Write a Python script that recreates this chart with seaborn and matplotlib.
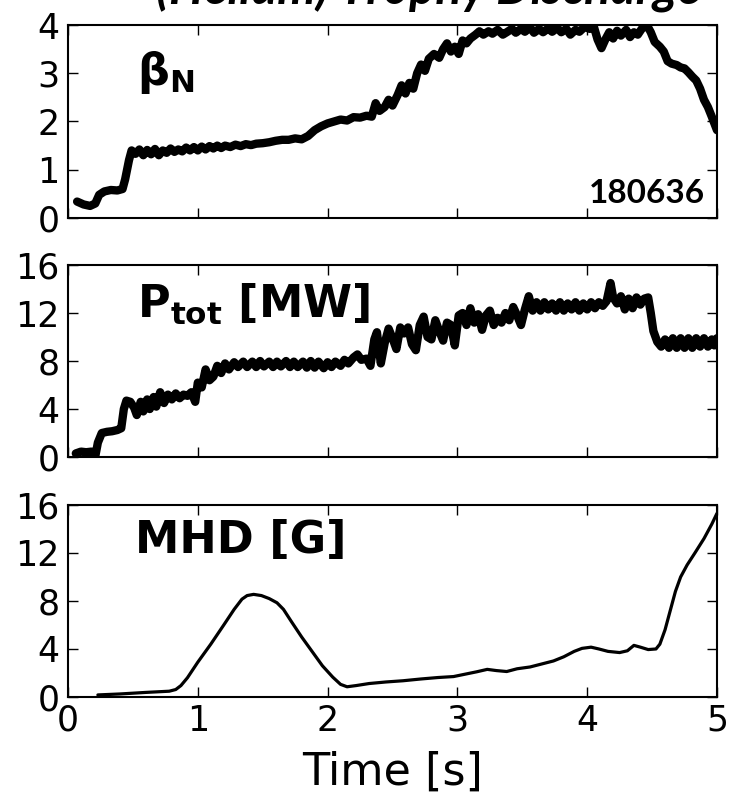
import matplotlib
matplotlib.use("Agg")
import matplotlib.pyplot as plt
import seaborn as sns

# Normalised beta (time [s], value)
beta_t = [0.07, 0.12, 0.17, 0.21, 0.24, 0.28, 0.33, 0.38, 0.42, 0.44, 0.47, 0.49,
          0.52, 0.55, 0.58, 0.61, 0.64, 0.67, 0.70, 0.73, 0.76, 0.79, 0.82, 0.85,
          0.88, 0.91, 0.94, 0.97, 1.00, 1.03, 1.06, 1.09, 1.12, 1.15, 1.18, 1.21,
          1.25, 1.29, 1.33, 1.37, 1.41, 1.45, 1.50, 1.55, 1.60, 1.65, 1.70, 1.75,
          1.80, 1.85, 1.90, 1.95, 2.00, 2.05, 2.10, 2.15, 2.20, 2.25, 2.30, 2.34,
          2.37, 2.40, 2.44, 2.47, 2.50, 2.54, 2.57, 2.60, 2.63, 2.66, 2.69, 2.72,
          2.75, 2.78, 2.82, 2.86, 2.89, 2.92, 2.95, 2.98, 3.01, 3.04, 3.07, 3.10,
          3.14, 3.17, 3.20, 3.24, 3.27, 3.31, 3.35, 3.38, 3.42, 3.45, 3.49, 3.52,
          3.56, 3.59, 3.63, 3.66, 3.70, 3.73, 3.77, 3.80, 3.84, 3.87, 3.91, 3.94,
          3.98, 4.02, 4.05, 4.08, 4.11, 4.14, 4.17, 4.20, 4.23, 4.26, 4.30, 4.33,
          4.36, 4.39, 4.42, 4.46, 4.49, 4.52, 4.56, 4.59, 4.62, 4.65, 4.69, 4.72,
          4.75, 4.78, 4.81, 4.84, 4.87, 4.90, 4.93, 4.96, 5.00]
beta_v = [0.34, 0.28, 0.25, 0.30, 0.48, 0.55, 0.58, 0.57, 0.60, 0.80, 1.20, 1.40,
          1.33, 1.42, 1.30, 1.41, 1.32, 1.43, 1.30, 1.40, 1.35, 1.44, 1.37, 1.42,
          1.38, 1.46, 1.40, 1.47, 1.40, 1.48, 1.42, 1.49, 1.44, 1.50, 1.45, 1.50,
          1.47, 1.52, 1.49, 1.53, 1.51, 1.54, 1.55, 1.57, 1.60, 1.62, 1.62, 1.65,
          1.63, 1.70, 1.82, 1.90, 1.96, 2.00, 2.04, 2.02, 2.09, 2.08, 2.12, 2.10,
          2.38, 2.22, 2.30, 2.45, 2.33, 2.55, 2.75, 2.58, 2.80, 2.68, 3.00, 3.18,
          3.05, 3.30, 3.40, 3.32, 3.50, 3.62, 3.45, 3.55, 3.40, 3.68, 3.62, 3.72,
          3.80, 3.87, 3.80, 3.87, 3.82, 3.90, 3.80, 3.85, 3.92, 3.84, 3.92, 3.86,
          3.95, 3.84, 3.92, 3.85, 3.93, 3.86, 3.94, 3.85, 3.92, 3.80, 3.90, 3.86,
          3.96, 3.92, 3.98, 3.70, 3.52, 3.70, 3.85, 3.72, 3.88, 3.78, 3.90, 3.75,
          3.85, 3.80, 3.92, 4.00, 3.85, 3.65, 3.55, 3.45, 3.25, 3.20, 3.17, 3.12,
          3.10, 3.02, 2.93, 2.85, 2.68, 2.45, 2.30, 2.10, 1.82]

# Total heating power [MW]
ptot_t = [0.06, 0.10, 0.14, 0.18, 0.21, 0.23, 0.26, 0.30, 0.34, 0.38, 0.41, 0.43,
          0.45, 0.48, 0.51, 0.53, 0.56, 0.58, 0.61, 0.63, 0.66, 0.68, 0.71, 0.74,
          0.77, 0.80, 0.83, 0.86, 0.89, 0.92, 0.95, 0.98, 1.00, 1.03, 1.06, 1.09,
          1.12, 1.15, 1.18, 1.21, 1.24, 1.28, 1.31, 1.35, 1.38, 1.42, 1.45, 1.48,
          1.51, 1.55, 1.58, 1.61, 1.64, 1.68, 1.71, 1.74, 1.77, 1.81, 1.84, 1.87,
          1.90, 1.93, 1.97, 2.00, 2.03, 2.06, 2.10, 2.13, 2.16, 2.20, 2.23, 2.26,
          2.30, 2.33, 2.36, 2.38, 2.41, 2.44, 2.47, 2.50, 2.53, 2.56, 2.59, 2.62,
          2.65, 2.68, 2.71, 2.74, 2.77, 2.80, 2.83, 2.86, 2.89, 2.92, 2.95, 2.98,
          3.01, 3.04, 3.07, 3.10, 3.13, 3.16, 3.19, 3.22, 3.25, 3.28, 3.31, 3.34,
          3.37, 3.40, 3.43, 3.46, 3.49, 3.52, 3.55, 3.58, 3.61, 3.64, 3.67, 3.70,
          3.73, 3.76, 3.79, 3.82, 3.85, 3.88, 3.91, 3.94, 3.97, 4.00, 4.03, 4.06,
          4.09, 4.12, 4.15, 4.18, 4.20, 4.23, 4.26, 4.29, 4.32, 4.35, 4.38, 4.41,
          4.44, 4.47, 4.49, 4.51, 4.54, 4.57, 4.60, 4.63, 4.66, 4.69, 4.72, 4.75,
          4.78, 4.81, 4.84, 4.87, 4.90, 4.93, 4.96, 4.98, 5.00]
ptot_v = [0.30, 0.45, 0.40, 0.45, 0.05, 1.20, 2.00, 2.10, 2.15, 2.25, 2.40, 4.00,
          4.70, 4.60, 4.10, 3.50, 4.60, 3.80, 4.80, 4.00, 5.00, 4.20, 5.40, 4.50,
          5.20, 4.80, 5.30, 4.90, 5.20, 5.10, 5.40, 4.60, 6.20, 5.80, 7.30, 6.40,
          6.70, 7.60, 7.00, 7.80, 7.30, 7.90, 7.50, 7.95, 7.50, 7.95, 7.50, 8.00,
          7.55, 7.95, 7.50, 7.95, 7.55, 8.00, 7.50, 7.95, 7.50, 7.95, 7.45, 8.00,
          7.45, 7.95, 7.40, 7.90, 7.50, 7.95, 7.60, 8.10, 7.80, 8.30, 8.55, 8.10,
          8.20, 7.60, 9.80, 10.40, 7.80, 9.50, 10.70, 9.90, 9.00, 10.80, 10.30, 10.80,
          9.40, 8.90, 11.00, 11.70, 10.00, 9.80, 11.40, 10.50, 9.70, 11.20, 11.00, 9.30,
          11.80, 12.00, 11.00, 12.40, 11.20, 11.90, 10.60, 11.80, 12.20, 11.00, 11.60, 11.20,
          12.00, 11.40, 12.50, 11.80, 11.00, 12.30, 13.40, 12.20, 12.90, 12.20, 12.90, 12.30,
          12.80, 12.20, 12.90, 12.20, 12.80, 12.30, 12.90, 12.20, 12.80, 12.30, 12.90, 12.40,
          12.90, 12.60, 13.00, 14.50, 13.30, 12.80, 13.40, 12.30, 13.20, 12.40, 13.30, 12.70,
          13.20, 13.30, 12.00, 10.50, 9.60, 9.20, 9.80, 9.10, 9.90, 9.10, 9.90, 9.10,
          9.90, 9.10, 9.90, 9.20, 9.90, 9.20, 9.80, 9.30, 9.90]

# Magnetic fluctuation amplitude [G]
mhd_t = [0.23, 0.40, 0.60, 0.78, 0.83, 0.87, 0.92, 1.00, 1.10, 1.20, 1.28, 1.34,
         1.38, 1.43, 1.49, 1.55, 1.61, 1.66, 1.72, 1.80, 1.88, 1.96, 2.04, 2.10,
         2.15, 2.22, 2.32, 2.45, 2.58, 2.72, 2.85, 2.97, 3.06, 3.15, 3.23, 3.30,
         3.38, 3.46, 3.56, 3.65, 3.74, 3.82, 3.90, 3.96, 4.03, 4.09, 4.16, 4.25,
         4.31, 4.36, 4.41, 4.47, 4.53, 4.56, 4.60, 4.64, 4.68, 4.72, 4.77, 4.83,
         4.90, 4.96, 5.00]
mhd_v = [0.17, 0.25, 0.38, 0.48, 0.62, 0.95, 1.60, 2.90, 4.40, 6.00, 7.30, 8.15,
         8.45, 8.55, 8.45, 8.20, 7.85, 7.30, 6.30, 5.00, 3.80, 2.60, 1.65, 1.05,
         0.85, 0.95, 1.12, 1.25, 1.35, 1.50, 1.62, 1.70, 1.90, 2.10, 2.30, 2.20,
         2.12, 2.35, 2.50, 2.75, 3.00, 3.35, 3.80, 4.05, 4.15, 4.00, 3.80, 3.70,
         3.85, 4.30, 4.15, 3.95, 4.00, 4.40, 5.60, 7.20, 8.80, 10.00, 11.00, 12.00,
         13.20, 14.40, 15.30]

panel_labels = ["β$_\\mathbf{N}$", "$\\mathbf{P}_{\\mathbf{tot}}$ [MW]", "MHD [G]"]
y_ticks = [[0, 1, 2, 3, 4], [0, 4, 8, 12, 16], [0, 4, 8, 12, 16]]
x_ticks = [0, 1, 2, 3, 4, 5]
shot = "180636"
title = "(Helium) Trophy Discharge"

sns.set_style("ticks")
plt.rcParams.update({
    "font.family": ["DejaVu Sans"],
    "mathtext.fontset": "dejavusans",
    "text.color": "black",
    "axes.labelcolor": "black",
    "xtick.direction": "in",
    "ytick.direction": "in",
    "xtick.top": True,
    "ytick.right": True,
    "axes.edgecolor": "black",
    "axes.linewidth": 1.5,
    "xtick.color": "black",
    "ytick.color": "black",
    "xtick.labelcolor": "black",
    "ytick.labelcolor": "black",
})

fig = plt.figure(figsize=(7.29, 7.99), dpi=100)
boxes = [(0.0933, 0.7272, 0.8902, 0.2415),
         (0.0933, 0.4280, 0.8902, 0.2403),
         (0.0933, 0.1277, 0.8902, 0.2403)]
axes = [fig.add_axes(b) for b in boxes]

series = [(beta_t, beta_v, 6.0), (ptot_t, ptot_v, 6.0), (mhd_t, mhd_v, 2.3)]
label_pos = [(0.106, 0.69), (0.106, 0.73), (0.103, 0.75)]

for ax, (t, v, lw), ticks, lab, (lx, ly) in zip(axes, series, y_ticks, panel_labels, label_pos):
    sns.lineplot(x=t, y=v, ax=ax, color="black", linewidth=lw, sort=False,
                 estimator=None, solid_joinstyle="round", solid_capstyle="round")
    ax.set_xlim(0, 5)
    ax.set_ylim(ticks[0], ticks[-1])
    ax.set_xticks(x_ticks)
    ax.set_yticks(ticks)
    ax.tick_params(axis="both", which="major", length=7, width=1.0,
                   labelsize=25, top=True, right=True, colors="black")
    ax.tick_params(axis="y", pad=6)
    ax.tick_params(axis="x", pad=5)
    ax.grid(False)
    for s in ax.spines.values():
        s.set_visible(True)
        s.set_color("black")
        s.set_linewidth(1.5)
    ax.text(lx, ly, lab, transform=ax.transAxes, fontsize=32, color="black",
            fontweight="bold", va="baseline", ha="left")

for ax in axes[:2]:
    ax.tick_params(axis="x", labelbottom=False)
    ax.set_xlabel("")

axes[2].set_xticklabels([str(x) for x in x_ticks])
axes[2].set_xlabel("Time [s]", fontsize=32, labelpad=9, color="black")

axes[0].text(0.981, 0.078, shot, transform=axes[0].transAxes, ha="right",
             va="baseline", fontsize=24, fontweight="bold", family="Lato",
             color="black")

fig.text(0.588, 0.995, title, ha="center", va="baseline", fontsize=35,
         fontweight="bold", style="italic", family="Lato", color="black")

fig.savefig("out.png", dpi=100, facecolor="white")
